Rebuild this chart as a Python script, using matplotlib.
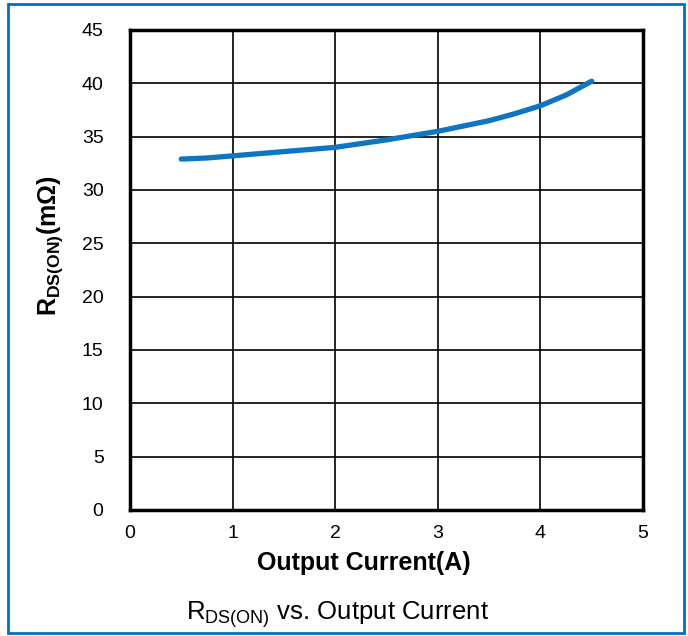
import matplotlib
matplotlib.use('Agg')
import matplotlib.pyplot as plt
from matplotlib.patches import Rectangle

plt.rcParams['font.family'] = ['Liberation Sans', 'DejaVu Sans']
plt.rcParams['mathtext.fontset'] = 'custom'
plt.rcParams['mathtext.rm'] = 'Liberation Sans'
plt.rcParams['mathtext.bf'] = 'Liberation Sans:bold'

# output current (A) and on-resistance (mOhm)
current = [0.5, 0.75, 1.0, 1.25, 1.5, 1.75, 2.0, 2.25, 2.5, 2.75, 3.0,
           3.25, 3.5, 3.75, 4.0, 4.25, 4.5]
rdson = [32.9, 33.0, 33.2, 33.4, 33.6, 33.8, 34.0, 34.35, 34.7, 35.1, 35.5,
         36.0, 36.5, 37.15, 37.9, 38.9, 40.2]
xticks = [0, 1, 2, 3, 4, 5]
yticks = [0, 5, 10, 15, 20, 25, 30, 35, 40, 45]

fig = plt.figure(figsize=(6.88, 6.36), dpi=100)
ax = fig.add_axes([130/688, 1-510/636, 513/688, 480/636])

ax.plot(current, rdson, color='#0E75C1', lw=3.8, solid_capstyle='round', zorder=3)

ax.set_xlim(0, 5)
ax.set_ylim(0, 45)
ax.set_xticks(xticks)
ax.set_yticks(yticks)
ax.grid(True, color='black', lw=1.2)
ax.tick_params(length=0, labelsize=14, pad=11)
ax.tick_params(axis='y', pad=19)
for s in ax.spines.values():
    s.set_linewidth(2.5)
    s.set_zorder(4)

ax.set_xlabel('Output Current(A)', fontsize=18, fontweight='bold')
ax.xaxis.set_label_coords((364-130)/513, -(563-510)/480)
ax.xaxis.label.set_va('center')
ax.set_ylabel(r'$\mathbf{R_{DS(ON)}(m\Omega)}$', fontsize=18)
ax.yaxis.set_label_coords(-(130-50)/513, (510-246)/480)
ax.yaxis.label.set_va('center')

fig.text(338/688, 1-615/636, r'R$_{\mathrm{DS(ON)}}$ vs. Output Current',
         ha='center', va='center', fontsize=18.5)

# blue frame around the figure
fig.patches.append(Rectangle((8/688, 3/636), 676/688, 629/636, transform=fig.transFigure,
                             fill=False, edgecolor='#0070C0', lw=2))

fig.savefig('out.png', dpi=100)
